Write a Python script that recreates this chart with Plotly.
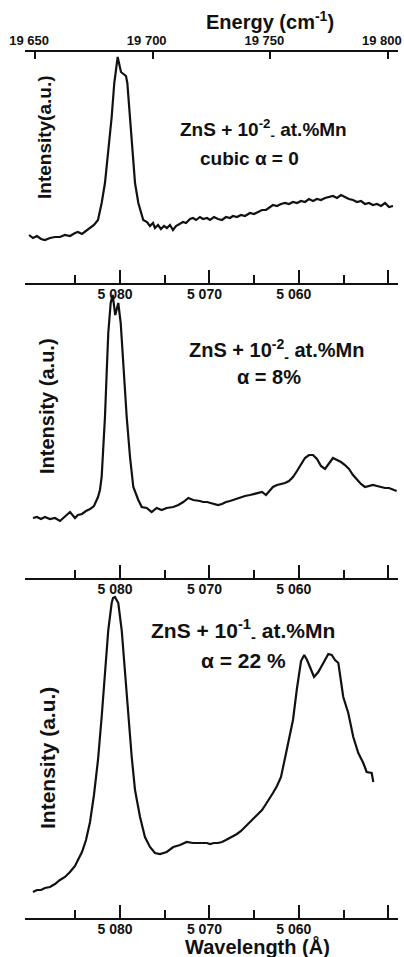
import plotly.graph_objects as go

# ---------------- data (wavelength in Å, intensity in a.u.) ----------------
wl_cubic = [5090.17, 5089.73, 5089.28, 5088.83, 5088.39, 5087.83, 5087.27, 5086.71, 5086.15, 5085.59,
            5085.03, 5084.70, 5084.25, 5083.80, 5083.35, 5082.91, 5082.46, 5082.05, 5081.68, 5081.31,
            5080.93, 5080.64, 5080.37, 5080.26, 5079.89, 5079.33, 5079.18, 5078.88, 5078.58, 5078.32,
            5077.95, 5077.40, 5076.98, 5076.65, 5076.31, 5076.09, 5075.75, 5075.42, 5075.08, 5074.75,
            5074.41, 5074.08, 5073.74, 5073.40, 5072.96, 5072.62, 5072.17, 5071.84, 5071.50, 5071.06,
            5070.72, 5070.27, 5069.94, 5069.49, 5069.04, 5068.60, 5068.15, 5067.70, 5067.37, 5066.92,
            5066.47, 5066.03, 5065.47, 5065.02, 5064.57, 5064.12, 5063.68, 5063.23, 5062.90, 5062.45,
            5062.00, 5061.55, 5061.11, 5060.66, 5060.21, 5059.76, 5059.32, 5058.87, 5058.42, 5057.98,
            5057.53, 5057.08, 5056.63, 5056.19, 5055.74, 5055.29, 5054.85, 5054.40, 5053.95, 5053.50,
            5053.06, 5052.61, 5052.16, 5051.72, 5051.27, 5050.82, 5050.37, 5049.93, 5049.48]
int_cubic = [48, 45, 47, 44, 43, 45, 46, 46, 48, 47,
             50, 51, 49, 52, 55, 58, 63, 80, 100, 133,
             166, 200, 220, 226, 211, 207, 200, 166, 133, 100,
             80, 63, 61, 57, 60, 55, 58, 54, 57, 55,
             58, 53, 57, 59, 61, 60, 64, 65, 63, 66,
             64, 65, 63, 66, 64, 63, 66, 65, 67, 66,
             68, 67, 70, 69, 71, 73, 73, 76, 78, 77,
             79, 80, 79, 81, 80, 82, 81, 84, 82, 84,
             83, 85, 86, 87, 85, 88, 86, 84, 83, 81,
             82, 79, 80, 78, 79, 77, 80, 76, 77]

wl_a8 = [5089.73, 5089.28, 5088.83, 5088.39, 5087.83, 5087.27, 5086.71, 5086.15, 5085.59, 5085.03,
         5084.70, 5084.25, 5083.80, 5083.35, 5082.91, 5082.46, 5082.24, 5082.05, 5081.87, 5081.68,
         5081.49, 5081.31, 5081.04, 5080.82, 5080.53, 5080.19, 5079.92, 5079.63, 5079.25, 5078.88,
         5078.51, 5077.95, 5077.57, 5077.02, 5076.46, 5075.90, 5075.34, 5074.78, 5074.04, 5073.48,
         5072.92, 5072.36, 5071.81, 5071.06, 5070.72, 5070.27, 5069.94, 5069.49, 5069.04, 5068.60,
         5068.15, 5067.70, 5067.37, 5066.92, 5066.47, 5066.03, 5065.47, 5065.02, 5064.57, 5064.12,
         5063.68, 5063.23, 5062.90, 5062.45, 5062.00, 5061.55, 5061.11, 5060.66, 5060.21, 5059.76,
         5059.32, 5058.87, 5058.42, 5057.98, 5057.53, 5057.08, 5056.63, 5056.19, 5055.74, 5055.29,
         5054.85, 5054.40, 5053.95, 5053.50, 5053.06, 5052.61, 5052.16, 5051.72, 5051.27, 5050.82,
         5050.37, 5049.93, 5049.48, 5049.07]
int_a8 = [60, 61, 59, 61, 59, 60, 57, 62, 66, 60,
          63, 64, 67, 69, 72, 81, 88, 101, 128, 161,
          205, 245, 275, 283, 263, 275, 255, 211, 161, 121,
          91, 78, 71, 70, 66, 70, 68, 70, 71, 73,
          76, 80, 78, 77, 76, 76, 75, 74, 73, 74,
          76, 77, 78, 79, 81, 82, 83, 84, 85, 86,
          83, 88, 91, 93, 94, 95, 97, 101, 107, 113,
          120, 123, 123, 119, 112, 109, 114, 120, 118, 116,
          113, 109, 103, 98, 94, 91, 92, 93, 92, 91,
          90, 90, 88, 87]

wl_a22 = [5089.73, 5089.28, 5088.83, 5088.39, 5087.83, 5087.27, 5086.71, 5086.15, 5085.59, 5085.03,
          5084.70, 5084.25, 5083.80, 5083.35, 5082.91, 5082.46, 5082.05, 5081.68, 5081.31, 5080.93,
          5080.78, 5080.56, 5080.19, 5079.81, 5079.44, 5079.07, 5078.69, 5078.32, 5077.76, 5077.21,
          5076.65, 5076.09, 5075.53, 5074.78, 5074.04, 5073.29, 5072.54, 5071.84, 5071.06, 5070.27,
          5069.94, 5069.49, 5069.04, 5068.60, 5068.15, 5067.70, 5067.37, 5066.92, 5066.47, 5066.03,
          5065.47, 5065.02, 5064.57, 5064.12, 5063.68, 5063.23, 5062.90, 5062.45, 5062.00, 5061.55,
          5061.11, 5060.66, 5060.21, 5059.76, 5059.40, 5059.09, 5058.76, 5058.31, 5057.83, 5057.27,
          5056.71, 5056.33, 5055.96, 5055.59, 5055.04, 5054.48, 5053.92, 5053.36, 5052.80, 5052.42,
          5051.86, 5051.68]
int_a22 = [26, 28, 28, 30, 31, 34, 38, 41, 46, 52,
           58, 66, 78, 96, 123, 158, 201, 245, 288, 315,
           320, 321, 315, 288, 245, 201, 161, 128, 101, 81,
           71, 65, 64, 66, 71, 73, 76, 75, 75, 75,
           74, 75, 75, 76, 78, 80, 82, 84, 87, 91,
           96, 100, 104, 108, 114, 120, 125, 132, 141, 160,
           178, 198, 230, 257, 263, 258, 251, 241, 246, 255,
           264, 263, 258, 255, 221, 205, 181, 165, 155, 146,
           145, 136]

wl_major = [5080, 5070, 5060, 5050]
wl_major_text = ["5 080", "5 070", "5 060", " "]
wl_minor = [5085, 5075, 5065, 5055]
energy_ticks = [19650, 19700, 19750, 19800]
energy_text = ["19 650", "19 700", "19 750", "19 800"]

# ---------------- figure ----------------
W, H = 404, 957
FONT = "Liberation Sans"
BLACK = "#111111"

def py(p):  # pixel row -> paper fraction
    return 1 - p / H

xdom = [25 / W, 398 / W]
xrange_ = [5090.62, 5048.92]

fig = go.Figure()
line = dict(color=BLACK, width=2.2)
fig.add_trace(go.Scatter(x=wl_cubic, y=int_cubic, mode="lines", line=line, xaxis="x", yaxis="y"))
fig.add_trace(go.Scatter(x=wl_a8, y=int_a8, mode="lines", line=line, xaxis="x2", yaxis="y2"))
fig.add_trace(go.Scatter(x=wl_a22, y=int_a22, mode="lines", line=line, xaxis="x3", yaxis="y3"))
fig.add_trace(go.Scatter(x=[19700], y=[-50], mode="markers", marker=dict(opacity=0),
                         xaxis="x4", yaxis="y", showlegend=False, hoverinfo="skip"))

def wl_axis(anchor):
    return dict(domain=xdom, range=xrange_, anchor=anchor, showline=True, linecolor=BLACK, linewidth=2,
                showgrid=False, zeroline=False, ticks="inside", ticklen=13, tickwidth=2, tickcolor=BLACK,
                tickmode="array", tickvals=wl_major, ticktext=wl_major_text, ticklabelshift=5,
                ticklabelstandoff=-3,
                tickfont=dict(family=FONT, size=14, color=BLACK, weight="bold"),
                minor=dict(tickmode="array", tickvals=wl_minor, ticks="inside", ticklen=8, tickwidth=2,
                           tickcolor=BLACK, showgrid=False),
                fixedrange=True)

def y_axis(top, bottom, rng):
    return dict(domain=[py(bottom), py(top)], range=rng, visible=False, showgrid=False, zeroline=False)

fig.update_layout(
    width=W, height=H, margin=dict(l=0, r=0, t=0, b=0, autoexpand=False),
    paper_bgcolor="white", plot_bgcolor="white", showlegend=False,
    xaxis=wl_axis("y"), xaxis2=wl_axis("y2"), xaxis3=wl_axis("y3"),
    xaxis4=dict(overlaying="x", anchor="y", side="top", range=[19645.7, 19804.3],
                showline=True, linecolor=BLACK, linewidth=2, showgrid=False, zeroline=False,
                ticks="inside", ticklen=7, tickwidth=2, tickcolor=BLACK, ticklabelshift=-6,
                tickmode="array", tickvals=energy_ticks, ticktext=energy_text,
                tickfont=dict(family=FONT, size=13, color=BLACK, weight="bold")),
    yaxis=y_axis(51.7, 283.3, [-0.3, 231.3]),
    yaxis2=y_axis(290, 578.3, [-0.3, 288]),
    yaxis3=y_axis(590, 918.3, [-0.3, 328]),
)

def ann(text, x, y, size, angle=0):
    fig.add_annotation(text=text, x=x / W, y=py(y), xref="paper", yref="paper", showarrow=False,
                       xanchor="center", yanchor="middle", textangle=angle,
                       font=dict(family=FONT, size=size, color=BLACK, weight="bold"))

ann("ZnS + 10<sup>-2</sup><sub>-</sub> at.%Mn", 263, 129, 19)
ann("cubic α = 0", 249, 158, 19)
ann("ZnS + 10<sup>-2</sup><sub>-</sub> at.%Mn", 277, 350, 20)
ann("α = 8%", 269, 377, 20)
ann("ZnS + 10<sup>-1</sup><sub>-</sub> at.%Mn", 243, 630, 21)
ann("α = 22 %", 243, 660, 21)
ann("Intensity(a.u.)", 44, 137, 19, -90)
ann("Intensity (a.u.)", 47, 406, 20, -90)
ann("Intensity (a.u.)", 47, 758, 21, -90)
ann("Energy (cm<sup>-1</sup>)", 270, 20, 20)
ann("Wavelength (Å)", 257, 946, 20)

fig.write_html(
    "out.html",
    config={"displayModeBar": False},
    post_script="document.body.style.margin='0';document.body.style.padding='0';"
                "document.documentElement.style.overflow='hidden';document.body.style.overflow='hidden';",
)
